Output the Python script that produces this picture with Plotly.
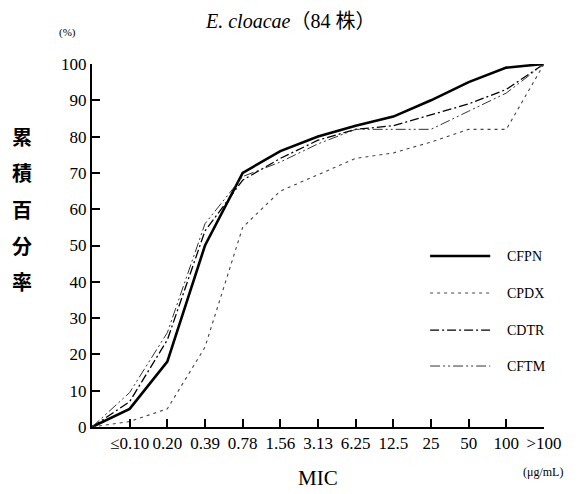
import plotly.graph_objects as go

# MIC categories (first point is the origin, no label)
mic_labels = ["≤0.10", "0.20", "0.39", "0.78", "1.56", "3.13", "6.25",
              "12.5", "25", "50", "100", ">100"]

# cumulative % (origin + 12 MIC steps)
cfpn = [0, 5, 18, 50, 70, 76, 80, 83, 85.5, 90, 95, 99, 100]
cpdx = [0, 1.5, 5, 22, 55, 65, 69.5, 74, 75.5, 78.5, 82, 82, 100]
cdtr = [0, 7, 24, 54, 68, 74, 79, 82, 83, 86, 89, 93, 100]
cftm = [0, 9.5, 26, 56, 69, 73, 78, 82, 82, 82, 87, 92, 100]

y_ticks = list(range(0, 101, 10))
ytitle_chars = "累積百分率"

xs = list(range(len(cfpn)))
tickpos = xs[1:]

SERIF = "Liberation Serif"
CJK = "Noto Sans CJK JP"

series = [
    ("CFPN", cfpn, dict(color="black", width=2.6, dash="solid")),
    ("CPDX", cpdx, dict(color="#444444", width=1.1, dash="3px,4px")),
    ("CDTR", cdtr, dict(color="black", width=1.3, dash="9px,3px,2px,3px")),
    ("CFTM", cftm, dict(color="#333333", width=1.0, dash="10px,3px,2px,3px,2px,3px")),
]

fig = go.Figure()
for name, vals, ln in series:
    fig.add_trace(go.Scatter(x=xs, y=vals, mode="lines", name=name, line=ln,
                             cliponaxis=False, showlegend=False))

# page has an 8px body margin, so the figure is sized 570x486
fig.update_layout(
    width=570, height=486,
    paper_bgcolor="white", plot_bgcolor="white",
    margin=dict(l=84, r=34, t=56, b=67),
    font=dict(family=SERIF, color="black", size=17),
    xaxis=dict(range=[0, 12], tickmode="array", tickvals=tickpos, ticktext=mic_labels,
               showline=True, linecolor="black", linewidth=2, ticks="inside",
               ticklen=8, tickwidth=1.5, tickcolor="black", showgrid=False,
               zeroline=False, tickfont=dict(family=SERIF, size=17)),
    yaxis=dict(range=[0, 100], tickmode="array", tickvals=y_ticks,
               showline=True, linecolor="black", linewidth=2, ticks="inside",
               ticklen=8, tickwidth=1.5, tickcolor="black", showgrid=False,
               zeroline=False, tickfont=dict(family=SERIF, size=17)),
)

anns = [
    dict(text="<i>E. cloacae</i>（84 株）", x=0.438, y=1.154, xref="paper", yref="paper",
         xanchor="center", yanchor="top", showarrow=False,
         font=dict(family=SERIF + ", " + CJK, size=20)),
    dict(text="(%)", x=-0.055, y=1.088, xref="paper", yref="paper", xanchor="center",
         yanchor="middle", showarrow=False, font=dict(family=SERIF, size=11)),
    dict(text="MIC", x=0.5, y=-0.14, xref="paper", yref="paper", xanchor="center",
         yanchor="middle", showarrow=False, font=dict(family=SERIF, size=21)),
    dict(text="(μg/mL)", x=0.998, y=-0.124, xref="paper", yref="paper", xanchor="center",
         yanchor="middle", showarrow=False, font=dict(family=SERIF, size=12)),
]
for ch, yv in zip(ytitle_chars, [80, 70, 60, 50, 40]):
    anns.append(dict(text="<b>" + ch + "</b>", x=-0.155, y=yv, xref="paper", yref="y",
                     xanchor="center", yanchor="middle", showarrow=False,
                     font=dict(family=CJK, size=20, color="black")))

# custom legend (line samples + labels)
legend_rows = [0.471, 0.369, 0.267, 0.168]
shapes = []
for (name, vals, ln), ly in zip(series, legend_rows):
    shapes.append(dict(type="line", xref="paper", yref="paper", x0=0.748, x1=0.881,
                       y0=ly, y1=ly, line=ln))
    anns.append(dict(text=name, x=0.914, y=ly, xref="paper", yref="paper",
                     xanchor="left", yanchor="middle", showarrow=False,
                     font=dict(family=SERIF, size=14)))
fig.update_layout(annotations=anns, shapes=shapes)

fig.write_html("out.html")
